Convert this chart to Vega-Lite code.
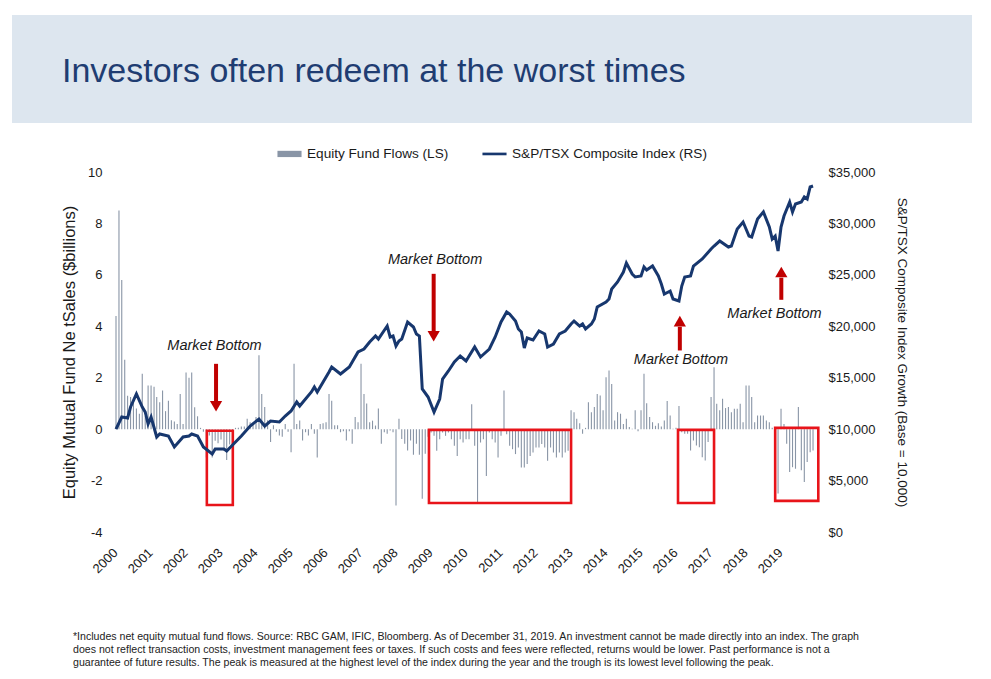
{
  "$schema": "https://vega.github.io/schema/vega-lite/v6.json",
  "description": "Equity mutual fund net sales vs S&P/TSX Composite growth, 2000-2019",
  "background": "white",
  "padding": {"left": 12, "top": 15, "right": 0, "bottom": 0},
  "config": {
    "font": "Liberation Sans",
    "view": {"stroke": null},
    "axis": {"labelFont": "Liberation Sans", "titleFont": "Liberation Sans", "labelColor": "#1a1a1a", "titleColor": "#1a1a1a", "titleFontWeight": "normal", "grid": false, "domain": false, "ticks": false},
    "axisX": {"labelOverlap": false, "labelFlush": false}
  },
  "title": {
    "text": [
      "*Includes net equity mutual fund flows. Source: RBC GAM, IFIC, Bloomberg. As of December 31, 2019. An investment cannot be made directly into an index. The graph",
      "does not reflect transaction costs, investment management fees or taxes. If such costs and fees were reflected, returns would be lower. Past performance is not a",
      "guarantee of future results. The peak is measured at the highest level of the index during the year and the trough is its lowest level following the peak."
    ],
    "orient": "bottom",
    "anchor": "start",
    "frame": "group",
    "dx": 61,
    "offset": 56,
    "font": "Liberation Sans",
    "fontSize": 10.6,
    "fontWeight": "normal",
    "lineHeight": 13,
    "color": "#222222"
  },
  "datasets": {
    "flows": [
      {"date": "2000-01-01", "flow": 4.4}, {"date": "2000-02-01", "flow": 8.5}, {"date": "2000-03-01", "flow": 5.8}, {"date": "2000-04-01", "flow": 2.7},
      {"date": "2000-05-01", "flow": 1.3}, {"date": "2000-06-01", "flow": 1.25}, {"date": "2000-07-01", "flow": 1.05}, {"date": "2000-08-01", "flow": 0.8},
      {"date": "2000-09-01", "flow": 0.6}, {"date": "2000-10-01", "flow": 2.15}, {"date": "2000-11-01", "flow": 0.5}, {"date": "2000-12-01", "flow": 1.7},
      {"date": "2001-01-01", "flow": 1.7}, {"date": "2001-02-01", "flow": 1.65}, {"date": "2001-03-01", "flow": 1.25}, {"date": "2001-04-01", "flow": 1.05},
      {"date": "2001-05-01", "flow": 1.5}, {"date": "2001-06-01", "flow": 0.7}, {"date": "2001-07-01", "flow": 1.1}, {"date": "2001-08-01", "flow": 0.35},
      {"date": "2001-09-01", "flow": 0.3}, {"date": "2001-10-01", "flow": 0.2}, {"date": "2001-11-01", "flow": 1.37}, {"date": "2001-12-01", "flow": 0.2},
      {"date": "2002-01-01", "flow": 2.2}, {"date": "2002-02-01", "flow": 2.0}, {"date": "2002-03-01", "flow": 2.2}, {"date": "2002-04-01", "flow": 0.85},
      {"date": "2002-05-01", "flow": 0.5}, {"date": "2002-06-01", "flow": 0.05}, {"date": "2002-07-01", "flow": -0.1}, {"date": "2002-08-01", "flow": -1.1},
      {"date": "2002-09-01", "flow": -0.25}, {"date": "2002-10-01", "flow": -1.1}, {"date": "2002-11-01", "flow": -0.45}, {"date": "2002-12-01", "flow": -0.55},
      {"date": "2003-01-01", "flow": -0.4}, {"date": "2003-02-01", "flow": -0.85}, {"date": "2003-03-01", "flow": -1.2}, {"date": "2003-04-01", "flow": -0.6},
      {"date": "2003-05-01", "flow": -0.3}, {"date": "2003-06-01", "flow": 0.05}, {"date": "2003-07-01", "flow": 0.05}, {"date": "2003-08-01", "flow": 0.1},
      {"date": "2003-09-01", "flow": 0.1}, {"date": "2003-10-01", "flow": 0.4}, {"date": "2003-11-01", "flow": 0.27}, {"date": "2003-12-01", "flow": 0.2},
      {"date": "2004-01-01", "flow": 0.47}, {"date": "2004-02-01", "flow": 2.87}, {"date": "2004-03-01", "flow": 1.37}, {"date": "2004-04-01", "flow": 0.86},
      {"date": "2004-05-01", "flow": 0.35}, {"date": "2004-06-01", "flow": -0.5}, {"date": "2004-07-01", "flow": 0.15}, {"date": "2004-08-01", "flow": -0.1},
      {"date": "2004-09-01", "flow": -0.25}, {"date": "2004-10-01", "flow": -0.3}, {"date": "2004-11-01", "flow": 0.2}, {"date": "2004-12-01", "flow": -0.1},
      {"date": "2005-01-01", "flow": -0.9}, {"date": "2005-02-01", "flow": 2.54}, {"date": "2005-03-01", "flow": 0.2}, {"date": "2005-04-01", "flow": 0.34},
      {"date": "2005-05-01", "flow": -0.44}, {"date": "2005-06-01", "flow": -0.12}, {"date": "2005-07-01", "flow": -0.25}, {"date": "2005-08-01", "flow": 0.2},
      {"date": "2005-09-01", "flow": -0.18}, {"date": "2005-10-01", "flow": -1.1}, {"date": "2005-11-01", "flow": 0.2}, {"date": "2005-12-01", "flow": 0.23},
      {"date": "2006-01-01", "flow": 0.27}, {"date": "2006-02-01", "flow": 1.37}, {"date": "2006-03-01", "flow": 1.1}, {"date": "2006-04-01", "flow": 0.15},
      {"date": "2006-05-01", "flow": 0.15}, {"date": "2006-06-01", "flow": -0.12}, {"date": "2006-07-01", "flow": -0.08}, {"date": "2006-08-01", "flow": -0.44},
      {"date": "2006-09-01", "flow": -0.08}, {"date": "2006-10-01", "flow": -0.57}, {"date": "2006-11-01", "flow": 0.47}, {"date": "2006-12-01", "flow": 0.27},
      {"date": "2007-01-01", "flow": 2.54}, {"date": "2007-02-01", "flow": 1.37}, {"date": "2007-03-01", "flow": 1.0}, {"date": "2007-04-01", "flow": 0.27},
      {"date": "2007-05-01", "flow": 0.33}, {"date": "2007-06-01", "flow": 0.14}, {"date": "2007-07-01", "flow": 0.8}, {"date": "2007-08-01", "flow": -0.57},
      {"date": "2007-09-01", "flow": -0.12}, {"date": "2007-10-01", "flow": -0.18}, {"date": "2007-11-01", "flow": -0.05}, {"date": "2007-12-01", "flow": -0.12},
      {"date": "2008-01-01", "flow": -2.97}, {"date": "2008-02-01", "flow": 0.4}, {"date": "2008-03-01", "flow": -0.38}, {"date": "2008-04-01", "flow": -0.57},
      {"date": "2008-05-01", "flow": -0.83}, {"date": "2008-06-01", "flow": -0.44}, {"date": "2008-07-01", "flow": -1.0}, {"date": "2008-08-01", "flow": -0.57},
      {"date": "2008-09-01", "flow": -1.0}, {"date": "2008-10-01", "flow": -2.71}, {"date": "2008-11-01", "flow": -0.96}, {"date": "2008-12-01", "flow": -0.3},
      {"date": "2009-01-01", "flow": -0.13}, {"date": "2009-02-01", "flow": -0.26}, {"date": "2009-03-01", "flow": -0.84}, {"date": "2009-04-01", "flow": -0.39},
      {"date": "2009-05-01", "flow": -0.13}, {"date": "2009-06-01", "flow": -0.26}, {"date": "2009-07-01", "flow": -0.13}, {"date": "2009-08-01", "flow": -0.39},
      {"date": "2009-09-01", "flow": -0.65}, {"date": "2009-10-01", "flow": -1.04}, {"date": "2009-11-01", "flow": -0.39}, {"date": "2009-12-01", "flow": -0.52},
      {"date": "2010-01-01", "flow": -0.39}, {"date": "2010-02-01", "flow": -0.39}, {"date": "2010-03-01", "flow": 0.97}, {"date": "2010-04-01", "flow": -0.65},
      {"date": "2010-05-01", "flow": -2.85}, {"date": "2010-06-01", "flow": -0.52}, {"date": "2010-07-01", "flow": -0.39}, {"date": "2010-08-01", "flow": -1.82},
      {"date": "2010-09-01", "flow": -0.13}, {"date": "2010-10-01", "flow": -0.39}, {"date": "2010-11-01", "flow": -0.52}, {"date": "2010-12-01", "flow": -1.1},
      {"date": "2011-01-01", "flow": -0.26}, {"date": "2011-02-01", "flow": 1.5}, {"date": "2011-03-01", "flow": -0.2}, {"date": "2011-04-01", "flow": -0.65},
      {"date": "2011-05-01", "flow": -0.78}, {"date": "2011-06-01", "flow": -0.97}, {"date": "2011-07-01", "flow": -0.71}, {"date": "2011-08-01", "flow": -1.49},
      {"date": "2011-09-01", "flow": -1.49}, {"date": "2011-10-01", "flow": -1.36}, {"date": "2011-11-01", "flow": -1.04}, {"date": "2011-12-01", "flow": -0.91},
      {"date": "2012-01-01", "flow": -0.71}, {"date": "2012-02-01", "flow": -0.71}, {"date": "2012-03-01", "flow": -0.58}, {"date": "2012-04-01", "flow": -0.71},
      {"date": "2012-05-01", "flow": -1.23}, {"date": "2012-06-01", "flow": -0.71}, {"date": "2012-07-01", "flow": -0.91}, {"date": "2012-08-01", "flow": -1.1},
      {"date": "2012-09-01", "flow": -0.91}, {"date": "2012-10-01", "flow": -1.1}, {"date": "2012-11-01", "flow": -0.91}, {"date": "2012-12-01", "flow": -0.84},
      {"date": "2013-01-01", "flow": 0.73}, {"date": "2013-02-01", "flow": 0.66}, {"date": "2013-03-01", "flow": 0.4}, {"date": "2013-04-01", "flow": 0.23},
      {"date": "2013-05-01", "flow": -0.18}, {"date": "2013-06-01", "flow": 0.05}, {"date": "2013-07-01", "flow": 1.05}, {"date": "2013-08-01", "flow": 0.66},
      {"date": "2013-09-01", "flow": 0.86}, {"date": "2013-10-01", "flow": 1.37}, {"date": "2013-11-01", "flow": 1.31}, {"date": "2013-12-01", "flow": 0.73},
      {"date": "2014-01-01", "flow": 2.02}, {"date": "2014-02-01", "flow": 2.28}, {"date": "2014-03-01", "flow": 1.76}, {"date": "2014-04-01", "flow": 0.34},
      {"date": "2014-05-01", "flow": 0.66}, {"date": "2014-06-01", "flow": 0.6}, {"date": "2014-07-01", "flow": 0.2}, {"date": "2014-08-01", "flow": 0.4},
      {"date": "2014-09-01", "flow": 0.08}, {"date": "2014-10-01", "flow": 0.02}, {"date": "2014-11-01", "flow": 0.73}, {"date": "2014-12-01", "flow": -0.08},
      {"date": "2015-01-01", "flow": 0.73}, {"date": "2015-02-01", "flow": 2.15}, {"date": "2015-03-01", "flow": 1.01}, {"date": "2015-04-01", "flow": 0.47},
      {"date": "2015-05-01", "flow": 0.27}, {"date": "2015-06-01", "flow": 0.13}, {"date": "2015-07-01", "flow": 0.23}, {"date": "2015-08-01", "flow": 0.1},
      {"date": "2015-09-01", "flow": 0.34}, {"date": "2015-10-01", "flow": 1.09}, {"date": "2015-11-01", "flow": 0.53}, {"date": "2015-12-01", "flow": 0.02},
      {"date": "2016-01-01", "flow": 0.05}, {"date": "2016-02-01", "flow": 0.9}, {"date": "2016-03-01", "flow": -0.12}, {"date": "2016-04-01", "flow": -0.18},
      {"date": "2016-05-01", "flow": -0.18}, {"date": "2016-06-01", "flow": -0.83}, {"date": "2016-07-01", "flow": -0.44}, {"date": "2016-08-01", "flow": -0.64},
      {"date": "2016-09-01", "flow": -0.7}, {"date": "2016-10-01", "flow": -1.09}, {"date": "2016-11-01", "flow": -1.22}, {"date": "2016-12-01", "flow": -0.5},
      {"date": "2017-01-01", "flow": 1.25}, {"date": "2017-02-01", "flow": 2.41}, {"date": "2017-03-01", "flow": 0.99}, {"date": "2017-04-01", "flow": 0.73},
      {"date": "2017-05-01", "flow": 1.18}, {"date": "2017-06-01", "flow": 0.82}, {"date": "2017-07-01", "flow": 0.86}, {"date": "2017-08-01", "flow": 0.66},
      {"date": "2017-09-01", "flow": 0.79}, {"date": "2017-10-01", "flow": 0.79}, {"date": "2017-11-01", "flow": 0.99}, {"date": "2017-12-01", "flow": 0.27},
      {"date": "2018-01-01", "flow": 1.7}, {"date": "2018-02-01", "flow": 1.7}, {"date": "2018-03-01", "flow": 1.25}, {"date": "2018-04-01", "flow": 0.27},
      {"date": "2018-05-01", "flow": 0.53}, {"date": "2018-06-01", "flow": 0.53}, {"date": "2018-07-01", "flow": 0.53}, {"date": "2018-08-01", "flow": 0.34},
      {"date": "2018-09-01", "flow": 0.27}, {"date": "2018-10-01", "flow": 0.05}, {"date": "2018-11-01", "flow": -0.31}, {"date": "2018-12-01", "flow": -2.5},
      {"date": "2019-01-01", "flow": 0.79}, {"date": "2019-02-01", "flow": 0.2}, {"date": "2019-03-01", "flow": -0.57}, {"date": "2019-04-01", "flow": -1.67},
      {"date": "2019-05-01", "flow": -1.48}, {"date": "2019-06-01", "flow": -1.54}, {"date": "2019-07-01", "flow": 0.86}, {"date": "2019-08-01", "flow": -1.6},
      {"date": "2019-09-01", "flow": -2.06}, {"date": "2019-10-01", "flow": -1.28}, {"date": "2019-11-01", "flow": -0.9}, {"date": "2019-12-01", "flow": -0.83}
    ],
    "index": [
      {"date": "2000-01-01", "index": 10000}, {"date": "2000-03-01", "index": 11180}, {"date": "2000-05-01", "index": 11083}, {"date": "2000-06-01", "index": 12153},
      {"date": "2000-08-01", "index": 13416}, {"date": "2000-10-01", "index": 12153}, {"date": "2000-11-01", "index": 11666}, {"date": "2000-12-01", "index": 10500},
      {"date": "2001-01-01", "index": 11180}, {"date": "2001-03-01", "index": 9236}, {"date": "2001-04-01", "index": 9528}, {"date": "2001-07-01", "index": 9333},
      {"date": "2001-09-01", "index": 8264}, {"date": "2001-12-01", "index": 9236}, {"date": "2002-02-01", "index": 9333}, {"date": "2002-03-01", "index": 9528},
      {"date": "2002-05-01", "index": 9333}, {"date": "2002-07-01", "index": 8264}, {"date": "2002-10-01", "index": 7583}, {"date": "2002-11-01", "index": 8069},
      {"date": "2003-02-01", "index": 8069}, {"date": "2003-03-01", "index": 7875}, {"date": "2003-06-01", "index": 8750}, {"date": "2003-08-01", "index": 9333},
      {"date": "2003-11-01", "index": 10305}, {"date": "2004-02-01", "index": 10986}, {"date": "2004-04-01", "index": 10305}, {"date": "2004-06-01", "index": 10791},
      {"date": "2004-09-01", "index": 10694}, {"date": "2004-11-01", "index": 11277}, {"date": "2005-01-01", "index": 11764}, {"date": "2005-03-01", "index": 12639},
      {"date": "2005-04-01", "index": 12250}, {"date": "2005-08-01", "index": 13611}, {"date": "2005-09-01", "index": 14097}, {"date": "2005-10-01", "index": 13611},
      {"date": "2006-02-01", "index": 15555}, {"date": "2006-03-01", "index": 16041}, {"date": "2006-06-01", "index": 15361}, {"date": "2006-09-01", "index": 16041},
      {"date": "2006-12-01", "index": 17500}, {"date": "2007-02-01", "index": 17791}, {"date": "2007-04-01", "index": 18472}, {"date": "2007-06-01", "index": 19055},
      {"date": "2007-07-01", "index": 18763}, {"date": "2007-10-01", "index": 20027}, {"date": "2007-11-01", "index": 18958}, {"date": "2007-12-01", "index": 19055},
      {"date": "2008-01-01", "index": 18083}, {"date": "2008-02-01", "index": 18569}, {"date": "2008-03-01", "index": 18763}, {"date": "2008-05-01", "index": 20416},
      {"date": "2008-07-01", "index": 19930}, {"date": "2008-08-01", "index": 19250}, {"date": "2008-09-01", "index": 19055}, {"date": "2008-10-01", "index": 13902},
      {"date": "2008-12-01", "index": 13125}, {"date": "2009-02-01", "index": 11666}, {"date": "2009-04-01", "index": 12930}, {"date": "2009-05-01", "index": 14875},
      {"date": "2009-07-01", "index": 15652}, {"date": "2009-09-01", "index": 16527}, {"date": "2009-11-01", "index": 17111}, {"date": "2010-01-01", "index": 16625},
      {"date": "2010-04-01", "index": 17986}, {"date": "2010-06-01", "index": 17013}, {"date": "2010-09-01", "index": 17791}, {"date": "2010-11-01", "index": 18958},
      {"date": "2011-01-01", "index": 20416}, {"date": "2011-03-01", "index": 21388}, {"date": "2011-04-01", "index": 21194}, {"date": "2011-06-01", "index": 20513},
      {"date": "2011-07-01", "index": 19735}, {"date": "2011-08-01", "index": 19444}, {"date": "2011-09-01", "index": 17888}, {"date": "2011-10-01", "index": 18861},
      {"date": "2011-12-01", "index": 18666}, {"date": "2012-02-01", "index": 19541}, {"date": "2012-04-01", "index": 19250}, {"date": "2012-05-01", "index": 17986},
      {"date": "2012-07-01", "index": 18277}, {"date": "2012-09-01", "index": 19250}, {"date": "2012-11-01", "index": 19541}, {"date": "2013-01-01", "index": 20222},
      {"date": "2013-02-01", "index": 20513}, {"date": "2013-04-01", "index": 20027}, {"date": "2013-05-01", "index": 20222}, {"date": "2013-06-01", "index": 19735},
      {"date": "2013-08-01", "index": 20222}, {"date": "2013-09-01", "index": 20708}, {"date": "2013-10-01", "index": 21874}, {"date": "2014-01-01", "index": 22360},
      {"date": "2014-02-01", "index": 22652}, {"date": "2014-03-01", "index": 23624}, {"date": "2014-05-01", "index": 24305}, {"date": "2014-07-01", "index": 25277},
      {"date": "2014-08-01", "index": 26152}, {"date": "2014-10-01", "index": 25083}, {"date": "2014-11-01", "index": 24791}, {"date": "2015-01-01", "index": 24888},
      {"date": "2015-02-01", "index": 25763}, {"date": "2015-03-01", "index": 25472}, {"date": "2015-05-01", "index": 25860}, {"date": "2015-07-01", "index": 24888},
      {"date": "2015-08-01", "index": 24111}, {"date": "2015-09-01", "index": 23138}, {"date": "2015-11-01", "index": 23430}, {"date": "2015-12-01", "index": 22652},
      {"date": "2016-02-01", "index": 22458}, {"date": "2016-03-01", "index": 23916}, {"date": "2016-04-01", "index": 24791}, {"date": "2016-06-01", "index": 24888},
      {"date": "2016-07-01", "index": 25860}, {"date": "2016-10-01", "index": 26541}, {"date": "2017-01-01", "index": 27513}, {"date": "2017-02-01", "index": 27805},
      {"date": "2017-04-01", "index": 28291}, {"date": "2017-07-01", "index": 27708}, {"date": "2017-08-01", "index": 27805}, {"date": "2017-10-01", "index": 29458},
      {"date": "2017-12-01", "index": 30138}, {"date": "2018-02-01", "index": 28777}, {"date": "2018-03-01", "index": 28680}, {"date": "2018-05-01", "index": 30430},
      {"date": "2018-07-01", "index": 31110}, {"date": "2018-09-01", "index": 29652}, {"date": "2018-10-01", "index": 28486}, {"date": "2018-11-01", "index": 28777},
      {"date": "2018-12-01", "index": 27319}, {"date": "2019-01-01", "index": 29652}, {"date": "2019-02-01", "index": 30721}, {"date": "2019-04-01", "index": 32083},
      {"date": "2019-05-01", "index": 31110}, {"date": "2019-06-01", "index": 31888}, {"date": "2019-08-01", "index": 32083}, {"date": "2019-09-01", "index": 32569},
      {"date": "2019-10-01", "index": 32374}, {"date": "2019-11-01", "index": 33541}, {"date": "2019-12-01", "index": 33638}
    ],
    "boxes": [
      {"start": "2002-08-06", "end": "2003-05-04", "top": -0.06, "bottom": -2.95},
      {"start": "2008-12-10", "end": "2013-01-01", "top": -0.03, "bottom": -2.87},
      {"start": "2016-01-22", "end": "2017-02-01", "top": -0.03, "bottom": -2.87},
      {"start": "2018-11-01", "end": "2020-01-25", "top": 0.05, "bottom": -2.79}
    ],
    "arrows": [
      {"date": "2002-11-10", "top": 2.54, "bot": 1.06, "head": 0.89, "dir": "down"},
      {"date": "2009-01-28", "top": 6.04, "bot": 3.79, "head": 3.61, "dir": "down"},
      {"date": "2016-02-10", "top": 3.98, "bot": 3.06, "head": 4.2, "dir": "up"},
      {"date": "2019-01-04", "top": 5.89, "bot": 5.03, "head": 6.11, "dir": "up"}
    ],
    "notes": [
      {"date": "2002-10-25", "v": 3.25, "text": "Market Bottom"},
      {"date": "2009-02-12", "v": 6.59, "text": "Market Bottom"},
      {"date": "2016-02-22", "v": 2.67, "text": "Market Bottom"},
      {"date": "2018-10-25", "v": 4.49, "text": "Market Bottom"}
    ]
  },
  "spacing": 43,
  "vconcat": [
    {
      "width": 960,
      "height": 108,
      "view": {"fill": "#dde6ef", "stroke": null},
      "title": {
        "text": "Investors often redeem at the worst times",
        "orient": "top",
        "anchor": "start",
        "frame": "group",
        "offset": -74,
        "dx": 50,
        "font": "Liberation Sans",
        "fontSize": 34,
        "fontWeight": "normal",
        "color": "#1f3d72"
      },
      "data": {"values": []},
      "mark": "point"
    },
    {
      "spacing": 0,
      "hconcat": [
        {
          "width": 49,
          "height": 10,
          "data": {"values": []},
          "mark": "point"
        },
        {
          "width": 700,
          "height": 360,
          "resolve": {"scale": {"y": "independent"}},
          "encoding": {
            "x": {
              "field": "date",
              "type": "temporal",
              "scale": {"domain": [{"year": 2000, "month": 1, "date": 1}, {"year": 2020, "month": 1, "date": 1}]},
              "axis": {
                "title": null,
                "values": [{"year": 2000}, {"year": 2001}, {"year": 2002}, {"year": 2003}, {"year": 2004}, {"year": 2005}, {"year": 2006}, {"year": 2007}, {"year": 2008}, {"year": 2009}, {"year": 2010}, {"year": 2011}, {"year": 2012}, {"year": 2013}, {"year": 2014}, {"year": 2015}, {"year": 2016}, {"year": 2017}, {"year": 2018}, {"year": 2019}],
                "format": "%Y",
                "labelAngle": -45,
                "labelPadding": 14,
                "labelOffset": -5,
                "labelFontSize": 13,
                "labelOverlap": false,
                "labelFlush": false
              }
            }
          },
          "layer": [
            {
              "layer": [
                {
                  "data": {"name": "flows"},
                  "mark": {"type": "rule", "strokeWidth": 1.1},
                  "encoding": {
                    "y": {
                      "field": "flow",
                      "type": "quantitative",
                      "scale": {"domain": [-4, 10], "nice": false, "zero": false},
                      "axis": {
                        "title": "Equity Mutual Fund Ne tSales ($billions)",
                        "values": [-4, -2, 0, 2, 4, 6, 8, 10],
                        "labelExpr": "'' + datum.value",
                        "labelPadding": 14,
                        "labelFontSize": 13,
                        "titleFontSize": 16.5,
                        "titlePadding": 10
                      }
                    },
                    "y2": {"datum": 0},
                    "color": {
                      "datum": "Equity Fund Flows (LS)",
                      "type": "nominal",
                      "scale": {"domain": ["Equity Fund Flows (LS)", "S&P/TSX Composite Index (RS)"], "range": ["#8995a6", "#17376e"]},
                      "legend": {
                        "orient": "none",
                        "legendX": 265,
                        "legendY": 126,
                        "direction": "horizontal",
                        "title": null,
                        "labelFont": "Liberation Sans",
                        "labelFontSize": 13.6,
                        "labelColor": "#1a1a1a",
                        "labelLimit": 400,
                        "symbolSize": 580,
                        "labelOffset": 5,
                        "columnPadding": 33,
                        "encode": {
                          "symbols": {
                            "update": {
                              "shape": {"signal": "datum.value === 'Equity Fund Flows (LS)' ? 'M-1,-0.26H1V0.26H-1Z' : 'M-1,-0.11H1V0.11H-1Z'"},
                              "fill": {"signal": "datum.value === 'Equity Fund Flows (LS)' ? '#8995a6' : '#17376e'"},
                              "stroke": {"value": "transparent"},
                              "strokeWidth": {"value": 0},
                              "opacity": {"value": 1}
                            }
                          }
                        }
                      }
                    }
                  }
                },
                {
                  "data": {"name": "boxes"},
                  "mark": {"type": "rect", "filled": false, "stroke": "#e8141a", "strokeWidth": 2.6, "clip": false},
                  "encoding": {
                    "x": {"field": "start", "type": "temporal"},
                    "x2": {"field": "end"},
                    "y": {"field": "top", "type": "quantitative"},
                    "y2": {"field": "bottom"}
                  }
                },
                {
                  "data": {"name": "arrows"},
                  "mark": {"type": "rule", "strokeWidth": 4, "color": "#c00000"},
                  "encoding": {
                    "y": {"field": "top", "type": "quantitative"},
                    "y2": {"field": "bot"}
                  }
                },
                {
                  "data": {"name": "arrows"},
                  "mark": {"type": "point", "filled": true, "size": 150, "opacity": 1, "color": "#c00000"},
                  "encoding": {
                    "y": {"field": "head", "type": "quantitative"},
                    "shape": {"field": "dir", "type": "nominal", "scale": {"domain": ["down", "up"], "range": ["triangle-down", "triangle-up"]}, "legend": null}
                  }
                },
                {
                  "data": {"name": "notes"},
                  "mark": {"type": "text", "font": "Liberation Sans", "fontSize": 14.5, "fontStyle": "italic", "color": "#1a1a1a", "align": "center", "baseline": "middle"},
                  "encoding": {
                    "y": {"field": "v", "type": "quantitative"},
                    "text": {"field": "text"}
                  }
                }
              ]
            },
            {
              "data": {"name": "index"},
              "mark": {"type": "line", "strokeWidth": 3, "interpolate": "linear"},
              "encoding": {
                "y": {
                  "field": "index",
                  "type": "quantitative",
                  "scale": {"domain": [0, 35000], "nice": false},
                  "axis": {
                    "orient": "right",
                    "title": "S&P/TSX Composite Index Growth (Base = 10,000)",
                    "values": [0, 5000, 10000, 15000, 20000, 25000, 30000, 35000],
                    "format": "$,.0f",
                    "labelPadding": 12,
                    "labelFontSize": 13,
                    "titleFontSize": 13.5,
                    "titlePadding": 20
                  }
                },
                "color": {"datum": "S&P/TSX Composite Index (RS)", "type": "nominal"}
              }
            }
          ]
        }
      ]
    }
  ]
}
